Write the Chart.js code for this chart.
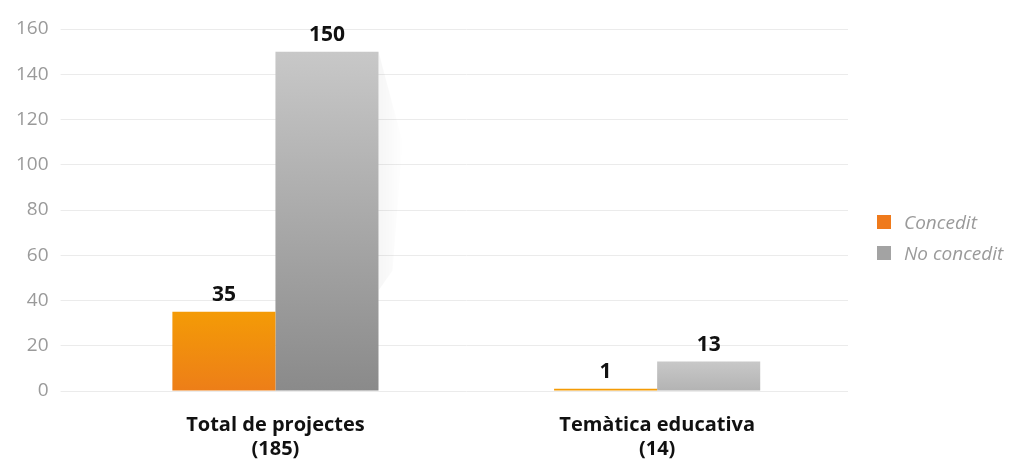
<!DOCTYPE html>
<html lang="ca">
<head>
    <meta charset="UTF-8">
    <title>Projectes concedits</title>
    <script src="https://cdn.jsdelivr.net/npm/chart.js"></script>
    <style>
        body { margin: 0; background: #fff; font-family: 'Open Sans', 'Noto Sans', sans-serif; }
        .wrap { width: 1019px; height: 460px; position: relative; }
        .llegenda { position: absolute; left: 877px; top: 206px; color: #9a9a9a; font-size: 19px; font-style: italic; }
        .llegenda div { height: 31px; display: flex; align-items: center; white-space: nowrap; }
        .llegenda span { display: inline-block; width: 14px; height: 14px; margin-right: 13px; }
    </style>
</head>
<body>
    <div class="wrap">
        <canvas id="grafic"></canvas>
        <div class="llegenda" id="llegenda"></div>
    </div>

    <script>
        // dades
        const categories = [['Total de projectes', '(185)'], ['Temàtica educativa', '(14)']];
        const seriesNames = ['Concedit', 'No concedit'];
        const concedit = [35, 1];
        const noConcedit = [150, 13];
        const yTicks = { min: 0, max: 160, step: 20 };

        const FONT = "'Open Sans', 'Noto Sans', sans-serif";

        function mix(a, b, t) {
            const pa = a.match(/\w\w/g).map(h => parseInt(h, 16));
            const pb = b.match(/\w\w/g).map(h => parseInt(h, 16));
            return 'rgb(' + pa.map((v, i) => Math.round(v + (pb[i] - v) * t)).join(',') + ')';
        }

        // degradat vertical per a cada barra (les barres baixes queden més planes)
        function barGradient(top, bottom) {
            return function (c) {
                const chart = c.chart;
                if (!chart.chartArea || c.type !== 'data') return '#' + bottom;
                const y = chart.scales.y;
                const y0 = y.getPixelForValue(0);
                const y1 = y.getPixelForValue(c.parsed.y);
                if (y0 - y1 < 4) return '#' + top;
                const t = Math.min(1, 0.25 + c.parsed.y / 150);
                const g = chart.ctx.createLinearGradient(0, y1, 0, y0);
                g.addColorStop(0, '#' + top);
                g.addColorStop(1, mix(top, bottom, t));
                return g;
            };
        }

        // reflex molt suau a la dreta de la barra més alta
        const barShadow = {
            id: 'barShadow',
            beforeDatasetsDraw(chart) {
                const bar = chart.getDatasetMeta(1).data[0];
                if (!bar) return;
                const ctx = chart.ctx;
                const r = bar.x + bar.width / 2;
                const g = ctx.createLinearGradient(r, 0, r + 26, 0);
                g.addColorStop(0, 'rgba(0,0,0,0.035)');
                g.addColorStop(1, 'rgba(0,0,0,0)');
                ctx.save();
                ctx.fillStyle = g;
                ctx.beginPath();
                ctx.moveTo(r, bar.y);
                ctx.lineTo(r + 24, bar.y + 90);
                ctx.lineTo(r + 14, bar.base - 120);
                ctx.lineTo(r, bar.base - 100);
                ctx.closePath();
                ctx.fill();
                ctx.restore();
            }
        };

        // etiquetes de valor damunt de les barres
        const valueLabels = {
            id: 'valueLabels',
            afterDatasetsDraw(chart) {
                const ctx = chart.ctx;
                ctx.save();
                ctx.font = 'bold 21px ' + FONT;
                ctx.fillStyle = '#111';
                ctx.textAlign = 'center';
                ctx.textBaseline = 'alphabetic';
                chart.data.datasets.forEach((ds, i) => {
                    chart.getDatasetMeta(i).data.forEach((bar, j) => {
                        ctx.fillText(ds.data[j], bar.x, bar.y - 11);
                    });
                });
                ctx.restore();
            }
        };

        const chart = new Chart(document.getElementById('grafic'), {
            type: 'bar',
            data: {
                labels: categories,
                datasets: [
                    {
                        label: seriesNames[0],
                        data: concedit,
                        backgroundColor: barGradient('f49b06', 'e55e2c'),
                        legendColor: '#ef7a1c'
                    },
                    {
                        label: seriesNames[1],
                        data: noConcedit,
                        backgroundColor: barGradient('c8c8c8', '8a8a8a'),
                        legendColor: '#a3a3a3'
                    }
                ]
            },
            options: {
                responsive: true,
                maintainAspectRatio: false,
                animation: false,
                layout: { padding: { top: 29, right: 171, left: 4, bottom: -15 } },
                datasets: { bar: { categoryPercentage: 0.54, barPercentage: 1 } },
                plugins: {
                    tooltip: { enabled: false },
                    legend: { display: false }
                },
                scales: {
                    x: {
                        grid: { display: false },
                        border: { display: false },
                        ticks: {
                            color: '#111',
                            padding: 14,
                            maxRotation: 0,
                            font: { family: FONT, size: 20, weight: 'bold', lineHeight: 1.2 }
                        }
                    },
                    y: {
                        min: yTicks.min,
                        max: yTicks.max,
                        border: { display: false },
                        grid: { color: '#ebebeb', tickLength: 24, tickColor: '#ebebeb' },
                        ticks: {
                            stepSize: yTicks.step,
                            color: '#9a9a9a',
                            padding: 12,
                            font: { family: FONT, size: 19 }
                        }
                    }
                }
            },
            plugins: [barShadow, valueLabels]
        });

        // llegenda HTML a partir dels conjunts de dades
        document.getElementById('llegenda').innerHTML = chart.data.datasets
            .map(ds => '<div><span style="background:' + ds.legendColor + '"></span>' + ds.label + '</div>')
            .join('');
    </script>
</body>
</html>
